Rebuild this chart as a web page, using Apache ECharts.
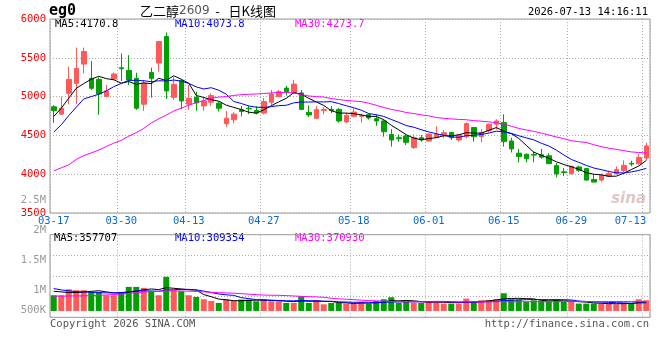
<!DOCTYPE html>
<html>
<head>
<meta charset="utf-8">
<script src="https://cdn.jsdelivr.net/npm/echarts@6/dist/echarts.min.js"></script>
<style>
  html, body { margin: 0; padding: 0; background: #fff; }
  #main { width: 660px; height: 360px; }
</style>
</head>
<body>
<div id="main"></div>
<script>
// 交易日
const dates = ['03-17','03-18','03-19','03-20','03-23','03-24','03-25','03-26','03-27','03-30','03-31',
  '04-01','04-02','04-03','04-07','04-08','04-09','04-10','04-13','04-14','04-15','04-16','04-17',
  '04-20','04-21','04-22','04-23','04-24','04-27','04-28','04-29','04-30',
  '05-06','05-07','05-08','05-11','05-12','05-13','05-14','05-15','05-18','05-19','05-20','05-21','05-22',
  '05-25','05-26','05-27','05-28','05-29',
  '06-01','06-02','06-03','06-04','06-05','06-08','06-09','06-10','06-11','06-12','06-15','06-16','06-17','06-18',
  '06-22','06-23','06-24','06-25','06-26','06-29','06-30',
  '07-01','07-02','07-03','07-06','07-07','07-08','07-09','07-10','07-13'];
const labelDates = ['03-17','03-30','04-13','04-27','05-18','06-01','06-15','06-29','07-13'];

const opens = [4868,4774,5043,5171,5419,5235,5222,5000,5226,5372,5338,5235,4902,5312,5432,5774,4991,5205,4902,4991,
  4880,4927,4915,4650,4701,4829,4850,4822,4788,4928,5000,5110,5047,5047,4797,4720,4822,4835,4835,4674,
  4746,4746,4767,4716,4686,4513,4470,4492,4343,4470,4428,4475,4504,4538,4441,4483,4602,4483,4559,4644,
  4665,4428,4271,4258,4254,4250,4237,4110,4030,4008,4093,4072,3932,3924,3975,4008,4047,4140,4136,4208];
const closes = [4821,4850,5222,5363,5581,5107,5034,5073,5291,5359,5214,4850,5171,5235,5709,5073,5158,4944,4979,4919,
  4944,5013,4850,4722,4774,4808,4842,4788,4936,5034,5064,5064,5161,4835,4763,4835,4835,4822,4686,4758,
  4801,4754,4725,4686,4547,4441,4458,4411,4470,4441,4517,4513,4534,4470,4504,4653,4483,4538,4644,4686,
  4420,4326,4229,4199,4246,4220,4136,4004,4021,4102,4051,3924,3898,3983,4008,4059,4115,4131,4216,4364];
const lows = [4662,4765,4902,4902,5299,5085,4765,4990,5210,5201,5150,4829,4816,4987,5321,4970,4957,4842,4829,4816,
  4816,4880,4808,4611,4658,4744,4774,4771,4771,4886,4992,5013,5034,4835,4737,4708,4771,4788,4665,4661,
  4740,4665,4703,4623,4483,4356,4420,4377,4326,4420,4420,4475,4462,4441,4420,4462,4420,4411,4538,4576,
  4356,4280,4153,4153,4153,4199,4136,3958,3975,3996,4030,3920,3898,3903,3966,3996,4030,4102,4123,4178];
const highs = [4889,5000,5385,5632,5632,5457,5248,5150,5312,5556,5534,5308,5214,5372,5709,5825,5256,5222,5150,5064,
  4991,5043,4936,4816,4799,4880,4884,4877,4983,5085,5089,5140,5216,5085,4886,4877,4864,4877,4852,4792,
  4843,4780,4780,4767,4708,4581,4513,4513,4513,4504,4525,4619,4568,4547,4513,4665,4610,4581,4653,4708,
  4771,4470,4326,4267,4292,4326,4271,4144,4081,4110,4110,4081,3996,4008,4047,4102,4178,4174,4258,4407];

// 成交量
const volumes = [611000,611000,845000,806000,806000,741000,741000,611000,611000,741000,
  936000,936000,897000,767000,611000,1326000,806000,767000,611000,546000,
  455000,390000,312000,455000,390000,442000,442000,377000,455000,377000,
  377000,312000,312000,572000,312000,416000,260000,312000,312000,286000,
  286000,351000,286000,390000,455000,533000,312000,351000,312000,312000,
  377000,377000,286000,286000,286000,481000,377000,416000,416000,455000,
  689000,455000,442000,351000,416000,390000,377000,442000,351000,351000,
  286000,286000,286000,286000,286000,260000,312000,312000,455000,416000];

// 图上读出的均线开头（之前的数据不在图内）
const ma5Head = [4744,4850,4979,5107];
const ma10Head = [4543,4637,4756,4863,4970,5000,5030,5073,5128];
const ma30 = [4045,4082,4120,4190,4240,4275,4310,4356,4400,4436,4490,4535,4590,4660,4715,4760,4815,4850,4890,4922,
  4948,4978,4994,5000,5015,5025,5030,5034,5040,5047,5054,5054,5047,5025,5008,5000,4994,4975,4962,4950,
  4942,4936,4915,4888,4860,4835,4818,4795,4782,4765,4752,4730,4720,4712,4706,4702,4690,4683,4675,4663,
  4645,4618,4590,4570,4552,4530,4505,4480,4458,4432,4420,4408,4380,4355,4335,4320,4303,4287,4280,4274];
const volMa5Head = [767000,741000,715000,715000];
const volMa10Head = [871000,819000,780000,754000,741000,728000,715000,702000,702000];
const volMa30 = [575000,578000,582000,586000,590000,598000,608000,622000,640000,660000,
  685000,710000,735000,755000,768000,778000,780000,778000,770000,758000,
  742000,725000,712000,702000,690000,672000,652000,635000,618000,611000,
  608000,598000,582000,568000,555000,546000,530000,495000,472000,456000,
  440000,420000,405000,392000,380000,370000,358000,355000,355000,355000,
  355000,355000,355000,355000,355000,355000,355000,356000,357000,358000,
  360000,360000,360000,360000,360000,361000,362000,362000,363000,364000,
  365000,366000,366000,367000,368000,368000,369000,370000,370000,371000];

const priceMaText = ['MA5:4170.8', 'MA10:4073.8', 'MA30:4273.7'];
const volMaText = ['MA5:357707', 'MA10:309354', 'MA30:370930'];
const volTicks = ['500K','','1M','','','1.5M','','','2M','','','2.5M'];

const RED = '#ff5a5a', GREEN = '#00a000';
const MONO = 'DejaVu Sans Mono';

function movingAvg(src, n, head) {
  let out = [];
  for (let i = 0; i < src.length; i++) {
    if (i < n - 1) { out.push(head[i]); continue; }
    let s = 0;
    for (let j = i - n + 1; j <= i; j++) s += src[j];
    out.push(+(s / n).toFixed(1));
  }
  return out;
}

const kData = [];
const volData = [];
for (let i = 0; i < dates.length; i++) {
  kData.push([opens[i], closes[i], lows[i], highs[i]]);
  volData.push({ value: volumes[i], itemStyle: { color: closes[i] >= opens[i] ? RED : GREEN } });
}
const ma5 = movingAvg(closes, 5, ma5Head);
const ma10 = movingAvg(closes, 10, ma10Head);
const volMa5 = movingAvg(volumes, 5, volMa5Head);
const volMa10 = movingAvg(volumes, 10, volMa10Head);

const showDate = (idx, val) => labelDates.indexOf(val) >= 0;
const dotted = { show: true, interval: showDate, lineStyle: { color: '#aaa', type: [1, 2], width: 1 } };

function lineSeries(data, color, xi, yi) {
  return {
    type: 'line', data: data, xAxisIndex: xi, yAxisIndex: yi,
    showSymbol: false, symbol: 'none', smooth: false, silent: true,
    lineStyle: { color: color, width: 1 }
  };
}

function txt(x, y, s, color, align, font) {
  return {
    type: 'text', x: x, y: y, silent: true,
    style: {
      text: s, fill: color, font: font || ('10.5px "' + MONO + '"'),
      textVerticalAlign: 'middle', textAlign: align || 'left'
    }
  };
}

const chart = echarts.init(document.getElementById('main'));
const option = {
  animation: false,
  backgroundColor: '#fff',
  grid: [
    { left: 50, right: 10, top: 19, height: 194, show: true, borderColor: '#999', borderWidth: 1 },
    { left: 50, right: 10, top: 234.7, height: 82.6, show: true, borderColor: '#999', borderWidth: 1 },
    { left: 50, right: 10, top: 200.7, height: 110, show: false }
  ],
  xAxis: [
    {
      type: 'category', gridIndex: 0, data: dates, boundaryGap: true,
      axisLine: { show: false }, axisTick: { show: false },
      axisLabel: {
        interval: showDate, color: '#0a6ad2', fontFamily: MONO, fontSize: 10.5, margin: 3,
        alignMaxLabel: 'right'
      },
      splitLine: dotted
    },
    {
      type: 'category', gridIndex: 1, data: dates, boundaryGap: true,
      axisLine: { show: false }, axisTick: { show: false }, axisLabel: { show: false },
      splitLine: dotted
    },
    { type: 'value', gridIndex: 2, min: 0, max: 1, show: false }
  ],
  yAxis: [
    {
      type: 'value', gridIndex: 0, min: 3500, max: 6000, interval: 500,
      axisLine: { show: false }, axisTick: { show: false },
      axisLabel: {
        color: '#ff0000', fontFamily: MONO, fontSize: 10.5, margin: 4,
        showMinLabel: true, showMaxLabel: true, formatter: (v) => String(v)
      },
      splitLine: { show: true, lineStyle: { color: '#aaa', type: [1, 2], width: 1 } }
    },
    {
      type: 'value', gridIndex: 1, min: 0, max: 4, interval: 1,
      axisLine: { show: false }, axisTick: { show: false }, axisLabel: { show: false },
      splitLine: { show: true, lineStyle: { color: '#aaa', type: [1, 2], width: 1 } }
    },
    { type: 'value', gridIndex: 1, min: -246000, max: 2964000, show: false, splitLine: { show: false } },
    {
      type: 'value', gridIndex: 2, min: 0, max: 11, interval: 1,
      axisLine: { show: false }, axisTick: { show: false }, splitLine: { show: false },
      axisLabel: {
        color: '#999', fontFamily: MONO, fontSize: 10.5, margin: 4,
        showMinLabel: true, showMaxLabel: true, hideOverlap: false,
        formatter: (v) => volTicks[Math.round(v)] || ''
      }
    }
  ],
  series: [
    {
      type: 'candlestick', xAxisIndex: 0, yAxisIndex: 0, data: kData, barWidth: 5, silent: true,
      itemStyle: { color: RED, color0: GREEN, borderColor: RED, borderColor0: GREEN, borderWidth: 1 }
    },
    lineSeries(ma5, '#000000', 0, 0),
    lineSeries(ma10, '#0000ff', 0, 0),
    lineSeries(ma30, '#ff00ff', 0, 0),
    { type: 'bar', xAxisIndex: 1, yAxisIndex: 2, data: volData, barWidth: 6, silent: true },
    lineSeries(volMa5, '#000000', 1, 2),
    lineSeries(volMa10, '#0000ff', 1, 2),
    lineSeries(volMa30, '#ff00ff', 1, 2)
  ],
  graphic: [
    txt(49, 11, 'eg0', '#000', 'left', 'bold 15px "' + MONO + '"'),
    {
      type: 'text', x: 140, y: 11, silent: true,
      style: {
        text: '{a|乙二醇}{b|2609}{a|  -   日K线图}',
        textVerticalAlign: 'middle',
        rich: {
          a: { fontFamily: 'Noto Sans CJK SC', fontSize: 13, fill: '#000', color: '#000' },
          b: { fontFamily: 'DejaVu Sans', fontSize: 12, fill: '#555', color: '#555' }
        }
      }
    },
    txt(648, 12, '2026-07-13 14:16:11', '#000', 'right'),
    txt(55, 24, priceMaText[0], '#000'),
    txt(175, 24, priceMaText[1], '#0000ff'),
    txt(295, 24, priceMaText[2], '#ff00ff'),
    txt(54, 238.5, volMaText[0], '#000'),
    txt(175, 238.5, volMaText[1], '#0000ff'),
    txt(295, 238.5, volMaText[2], '#ff00ff'),
    txt(50, 324, 'Copyright 2026 SINA.COM', '#555'),
    txt(649, 324, 'http://finance.sina.com.cn', '#555', 'right'),
    txt(646, 199, 'sina', '#e2c6c6', 'right', 'italic bold 15px "DejaVu Sans"')
  ]
};
chart.setOption(option);
</script>
</body>
</html>
